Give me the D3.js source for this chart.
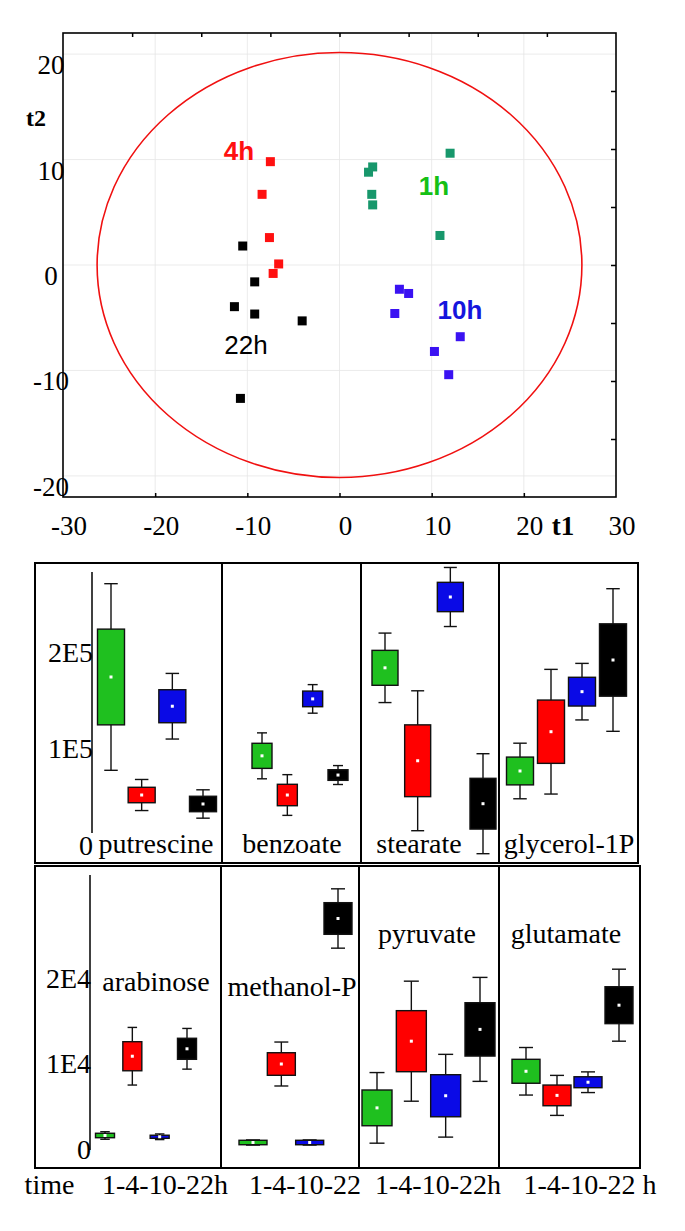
<!DOCTYPE html>
<html>
<head>
<meta charset="utf-8">
<script src="https://d3js.org/d3.v7.min.js"></script>
<style>
  body { margin: 0; background: #fff; }
  svg { display: block; }
</style>
</head>
<body>
<div id="chart"></div>
<script>
// ---------- score plot data (t1 / t2) ----------
var t1Ticks = [-30, -20, -10, 0, 10, 20, 30];
var t2Ticks = [-20, -10, 0, 10, 20];

var group1h_t1 = [12.0, 3.6, 3.15, 3.5, 3.6, 10.9];
var group1h_t2 = [10.6, 9.3, 8.8, 6.7, 5.7, 2.8];
var group4h_t1 = [-7.5, -8.4, -7.6, -6.6, -7.2];
var group4h_t2 = [9.8, 6.7, 2.6, 0.1, -0.8];
var group10h_t1 = [6.5, 7.5, 6.0, 13.1, 10.3, 11.85];
var group10h_t2 = [-2.3, -2.7, -4.6, -6.8, -8.2, -10.4];
var group22h_t1 = [-10.5, -9.2, -11.4, -9.2, -4.05, -10.75];
var group22h_t2 = [1.8, -1.6, -3.95, -4.65, -5.3, -12.65];

// Hotelling T2 ellipse radii
var ellipseT1 = 26.3;
var ellipseT2 = 20.15;

// ---------- box plot data (mean, box = SE, whisker = SD) ----------
var times = ["1h", "4h", "10h", "22h"];
var row1Names = ["putrescine", "benzoate", "stearate", "glycerol-1P"];
var row2Names = ["arabinose", "methanol-P", "pyruvate", "glutamate"];
var row1Ticks = [0, 1e5, 2e5];
var row1TickLabels = ["0", "1E5", "2E5"];
var row2Ticks = [0, 1e4, 2e4];
var row2TickLabels = ["0", "1E4", "2E4"];
var timeLabels = ["time", "1-4-10-22h", "1-4-10-22", "1-4-10-22h", "1-4-10-22 h"];

var putrescineMean = [174100, 51800, 143800, 42500];
var putrescineSE = [49600, 8000, 17100, 8000];
var putrescineSD = [96700, 16100, 34000, 14700];
var benzoateMean = [92400, 51800, 151400, 72500];
var benzoateSE = [13000, 11100, 8100, 5500];
var benzoateSD = [23800, 21100, 14800, 9800];
var stearateMean = [183600, 87300, 257000, 42800];
var stearateSE = [18100, 37200, 15200, 26300];
var stearateSD = [36000, 72500, 30600, 51800];
var glycerolMean = [76700, 117400, 158900, 191700];
var glycerolSE = [14400, 32800, 14900, 37500];
var glycerolSD = [28800, 64600, 29300, 73900];

var arabinoseMean = [1580, 10850, 1430, 11720];
var arabinoseSE = [260, 1700, 180, 1230];
var arabinoseSD = [440, 3370, 330, 2380];
var methanolMean = [760, 9940, 760, 26960];
var methanolSE = [260, 1320, 260, 1850];
var methanolSD = [300, 2570, 300, 3470];
var pyruvateMean = [4810, 12610, 6230, 13990];
var pyruvateSE = [2090, 3570, 2460, 3120];
var pyruvateSD = [4130, 7020, 4840, 6080];
var glutamateMean = [9090, 6270, 7810, 16820];
var glutamateSE = [1400, 1210, 640, 2160];
var glutamateSD = [2780, 2340, 1210, 4210];

// ---------- layout ----------
var svgWidth = 685;
var svgHeight = 1231;
var serif = "'Liberation Serif', 'Times New Roman', serif";
var sans = "'Liberation Sans', Arial, sans-serif";
var boxColors = ["#1fc01f", "#ff0000", "#0a0ae6", "#000000"];

var svg = d3.select("#chart")
  .append("svg")
  .attr("width", svgWidth)
  .attr("height", svgHeight);

svg.append("rect")
  .attr("width", svgWidth)
  .attr("height", svgHeight)
  .attr("fill", "#fff");

// ================= score plot =================
var plot = { left: 63, right: 616, top: 33, bottom: 497 };

var xScore = d3.scaleLinear().domain([-30, 30]).range([plot.left, plot.right]);
var yScore = d3.scaleLinear().domain([-22, 22]).range([plot.bottom, plot.top]);

var scoreGroup = svg.append("g");

// light grid
scoreGroup.selectAll("line.vgrid")
  .data([-20, -10, 0, 10, 20])
  .enter()
  .append("line")
  .attr("x1", d => xScore(d))
  .attr("x2", d => xScore(d))
  .attr("y1", plot.top)
  .attr("y2", plot.bottom)
  .attr("stroke", "#e6e6e6")
  .attr("stroke-width", 0.8);

scoreGroup.selectAll("line.hgrid")
  .data(t2Ticks)
  .enter()
  .append("line")
  .attr("x1", plot.left)
  .attr("x2", plot.right)
  .attr("y1", d => yScore(d))
  .attr("y2", d => yScore(d))
  .attr("stroke", "#e6e6e6")
  .attr("stroke-width", 0.8);

// frame ticks (top every 7.5, right every 5.5 like the original software)
var topAxis = d3.axisTop(xScore)
  .tickValues([-22.5, -15, -7.5, 0, 7.5, 15, 22.5])
  .tickSize(-4)
  .tickFormat("");
scoreGroup.append("g")
  .attr("transform", `translate(0, ${plot.top})`)
  .call(topAxis)
  .call(g => g.select(".domain").remove());

var rightAxis = d3.axisRight(yScore)
  .tickValues([-16.5, -11, -5.5, 0, 5.5, 11, 16.5])
  .tickSize(-5)
  .tickFormat("");
scoreGroup.append("g")
  .attr("transform", `translate(${plot.right}, 0)`)
  .call(rightAxis)
  .call(g => g.select(".domain").remove());

var bottomAxis = d3.axisBottom(xScore)
  .tickValues([-20, -10, 0, 10, 20])
  .tickSize(-4)
  .tickFormat("");
scoreGroup.append("g")
  .attr("transform", `translate(0, ${plot.bottom})`)
  .call(bottomAxis)
  .call(g => g.select(".domain").remove());

scoreGroup.selectAll(".tick line")
  .attr("stroke", "#000")
  .attr("stroke-width", 1.5);

scoreGroup.append("rect")
  .attr("x", plot.left)
  .attr("y", plot.top)
  .attr("width", plot.right - plot.left)
  .attr("height", plot.bottom - plot.top)
  .attr("fill", "none")
  .attr("stroke", "#000")
  .attr("stroke-width", 1.6);

// tick labels
scoreGroup.selectAll("text.xlab")
  .data(t1Ticks)
  .enter()
  .append("text")
  .attr("x", d => xScore(d) + 6)
  .attr("y", 535)
  .attr("text-anchor", "middle")
  .attr("font-family", serif)
  .attr("font-size", 27)
  .text(d => d);

scoreGroup.selectAll("text.ylab")
  .data(t2Ticks)
  .enter()
  .append("text")
  .attr("x", 51)
  .attr("y", d => yScore(d) + 20)
  .attr("text-anchor", "middle")
  .attr("font-family", serif)
  .attr("font-size", 27)
  .text(d => d);

scoreGroup.append("text")
  .attr("x", 563)
  .attr("y", 535)
  .attr("text-anchor", "middle")
  .attr("font-family", serif)
  .attr("font-weight", "bold")
  .attr("font-size", 27)
  .text("t1");

scoreGroup.append("text")
  .attr("x", 36)
  .attr("y", 126)
  .attr("text-anchor", "middle")
  .attr("font-family", serif)
  .attr("font-weight", "bold")
  .attr("font-size", 24)
  .text("t2");

// confidence ellipse
scoreGroup.append("ellipse")
  .attr("cx", xScore(0))
  .attr("cy", yScore(0))
  .attr("rx", xScore(ellipseT1) - xScore(0))
  .attr("ry", yScore(0) - yScore(ellipseT2))
  .attr("fill", "none")
  .attr("stroke", "#f01010")
  .attr("stroke-width", 1.6);

// sample points
var scoreSets = [
  { t1: group1h_t1, t2: group1h_t2, color: "#17976b" },
  { t1: group4h_t1, t2: group4h_t2, color: "#ff1010" },
  { t1: group10h_t1, t2: group10h_t2, color: "#3a12f2" },
  { t1: group22h_t1, t2: group22h_t2, color: "#000000" }
];

scoreSets.forEach(function(set) {
  scoreGroup.selectAll(null)
    .data(set.t1)
    .enter()
    .append("rect")
    .attr("x", (d, i) => xScore(d) - 4.5)
    .attr("y", (d, i) => yScore(set.t2[i]) - 4.5)
    .attr("width", 9)
    .attr("height", 9)
    .attr("fill", set.color);
});

// group labels
var groupLabels = [
  { text: "1h", x: 434, y: 195, color: "#15c015", weight: "bold" },
  { text: "4h", x: 239, y: 160, color: "#ff1010", weight: "bold" },
  { text: "10h", x: 460, y: 319, color: "#1515dd", weight: "bold" },
  { text: "22h", x: 246, y: 354, color: "#000000", weight: "normal" }
];

scoreGroup.selectAll("text.grp")
  .data(groupLabels)
  .enter()
  .append("text")
  .attr("x", d => d.x)
  .attr("y", d => d.y)
  .attr("text-anchor", "middle")
  .attr("font-family", sans)
  .attr("font-weight", d => d.weight)
  .attr("font-size", 26)
  .attr("fill", d => d.color)
  .text(d => d.text);

// ================= box plots =================
var yRow1 = d3.scaleLinear().domain([0, 2e5]).range([845, 652]);
var yRow2 = d3.scaleLinear().domain([0, 2e4]).range([1149, 978]);

var row1 = {
  top: 563, bottom: 863, edges: [35, 222, 361, 499, 638],
  axisX: 92, axisTop: 572, axisBottom: 833,
  y: yRow1, ticks: row1Ticks, tickLabels: row1TickLabels
};
var row2 = {
  top: 866, bottom: 1168, edges: [35, 221, 359, 499, 640],
  axisX: 90, axisTop: 875, axisBottom: 1150,
  y: yRow2, ticks: row2Ticks, tickLabels: row2TickLabels
};

var row1Panels = [
  { name: row1Names[0], mean: putrescineMean, se: putrescineSE, sd: putrescineSD, x0: 111, x1: 203, w: 27, lx: 156, ly: 853 },
  { name: row1Names[1], mean: benzoateMean, se: benzoateSE, sd: benzoateSD, x0: 262, x1: 338, w: 20, lx: 292, ly: 853 },
  { name: row1Names[2], mean: stearateMean, se: stearateSE, sd: stearateSD, x0: 385, x1: 483, w: 26, lx: 419, ly: 853 },
  { name: row1Names[3], mean: glycerolMean, se: glycerolSE, sd: glycerolSD, x0: 520, x1: 613, w: 27, lx: 569, ly: 853 }
];
var row2Panels = [
  { name: row2Names[0], mean: arabinoseMean, se: arabinoseSE, sd: arabinoseSD, x0: 105, x1: 187, w: 19, lx: 156, ly: 991 },
  { name: row2Names[1], mean: methanolMean, se: methanolSE, sd: methanolSD, x0: 253, x1: 338, w: 28, lx: 292, ly: 996 },
  { name: row2Names[2], mean: pyruvateMean, se: pyruvateSE, sd: pyruvateSD, x0: 377, x1: 480, w: 30, lx: 427, ly: 943 },
  { name: row2Names[3], mean: glutamateMean, se: glutamateSE, sd: glutamateSD, x0: 526, x1: 619, w: 28, lx: 566, ly: 943 }
];

function drawRow(row, panels) {
  var g = svg.append("g");

  // panel frames
  for (var i = 0; i < 4; i++) {
    g.append("rect")
      .attr("x", row.edges[i])
      .attr("y", row.top)
      .attr("width", row.edges[i + 1] - row.edges[i])
      .attr("height", row.bottom - row.top)
      .attr("fill", "none")
      .attr("stroke", "#000")
      .attr("stroke-width", 2);
  }

  // y axis line and labels
  g.append("line")
    .attr("x1", row.axisX)
    .attr("x2", row.axisX)
    .attr("y1", row.axisTop)
    .attr("y2", row.axisBottom)
    .attr("stroke", "#000")
    .attr("stroke-width", 1.5);

  g.selectAll("text.ytick")
    .data(row.ticks)
    .enter()
    .append("text")
    .attr("x", row.axisX + 1)
    .attr("y", d => row.y(d))
    .attr("dy", "0.35em")
    .attr("text-anchor", "end")
    .attr("font-family", serif)
    .attr("font-size", 28)
    .text((d, i) => row.tickLabels[i]);

  panels.forEach(function(p) {
    var x = d3.scalePoint().domain(times).range([p.x0, p.x1]);
    var cap = p.w * 0.5;
    var pg = g.append("g");

    var items = pg.selectAll("g")
      .data(times)
      .enter()
      .append("g");

    // whiskers (SD)
    items.append("line")
      .attr("x1", d => x(d))
      .attr("x2", d => x(d))
      .attr("y1", (d, i) => row.y(p.mean[i] + p.sd[i]))
      .attr("y2", (d, i) => row.y(p.mean[i] - p.sd[i]))
      .attr("stroke", "#111")
      .attr("stroke-width", 1.4);
    items.append("line")
      .attr("x1", d => x(d) - cap / 2)
      .attr("x2", d => x(d) + cap / 2)
      .attr("y1", (d, i) => row.y(p.mean[i] + p.sd[i]))
      .attr("y2", (d, i) => row.y(p.mean[i] + p.sd[i]))
      .attr("stroke", "#111")
      .attr("stroke-width", 1.4);
    items.append("line")
      .attr("x1", d => x(d) - cap / 2)
      .attr("x2", d => x(d) + cap / 2)
      .attr("y1", (d, i) => row.y(p.mean[i] - p.sd[i]))
      .attr("y2", (d, i) => row.y(p.mean[i] - p.sd[i]))
      .attr("stroke", "#111")
      .attr("stroke-width", 1.4);

    // box (SE)
    items.append("rect")
      .attr("x", d => x(d) - p.w / 2)
      .attr("y", (d, i) => row.y(p.mean[i] + p.se[i]))
      .attr("width", p.w)
      .attr("height", (d, i) => Math.max(row.y(p.mean[i] - p.se[i]) - row.y(p.mean[i] + p.se[i]), 1))
      .attr("fill", (d, i) => boxColors[i])
      .attr("stroke", "#111")
      .attr("stroke-width", 1.4);

    // mean marker
    items.append("rect")
      .attr("x", d => x(d) - 1.5)
      .attr("y", (d, i) => row.y(p.mean[i]) - 1.5)
      .attr("width", 3)
      .attr("height", 3)
      .attr("fill", "#fff");

    // metabolite name
    pg.append("text")
      .attr("x", p.lx)
      .attr("y", p.ly)
      .attr("text-anchor", "middle")
      .attr("font-family", serif)
      .attr("font-size", 28)
      .text(p.name);
  });
}

drawRow(row1, row1Panels);
drawRow(row2, row2Panels);

// time labels under the panels
var timeLabelX = [49.5, 165, 305, 438, 590];
svg.selectAll("text.time")
  .data(timeLabels)
  .enter()
  .append("text")
  .attr("x", (d, i) => timeLabelX[i])
  .attr("y", 1194)
  .attr("text-anchor", "middle")
  .attr("font-family", serif)
  .attr("font-size", 28)
  .text(d => d);
</script>
</body>
</html>
